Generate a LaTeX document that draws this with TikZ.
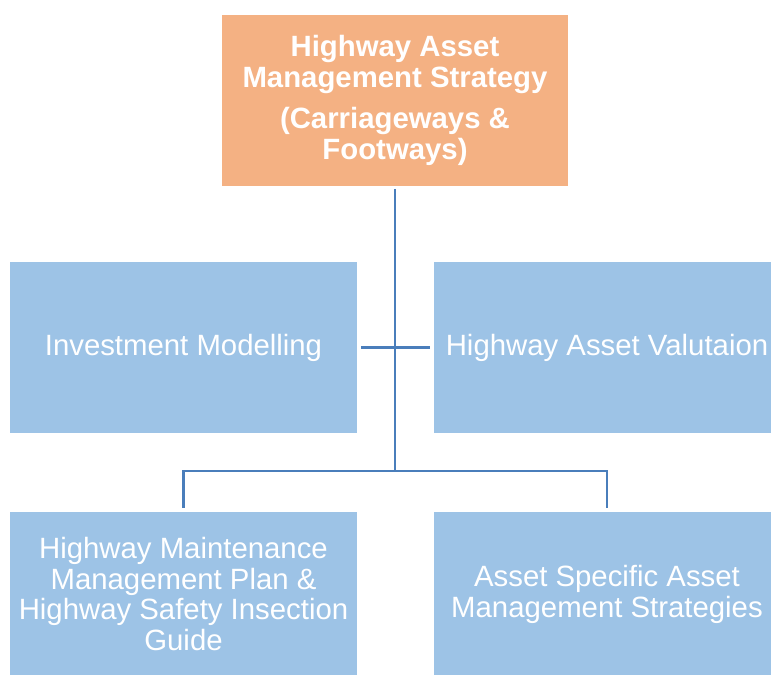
\documentclass[tikz,border=0pt]{standalone}
\usepackage{fontspec}
\setmainfont{Liberation Sans}
\definecolor{hPeach}{HTML}{F4B183}
\definecolor{hSky}{HTML}{9DC3E6}
\definecolor{hLine}{HTML}{4A7EBB}
\usetikzlibrary{positioning}

\begin{document}
\begin{tikzpicture}[x=0.02cm, y=-0.02cm,
  topbox/.style={fill=hPeach, text=white, inner sep=0pt,
              minimum width=6.92cm, minimum height=3.42cm,
              font=\fontsize{16.7}{17.6}\selectfont\bfseries, align=center},
  subbox/.style={fill=hSky, text=white, inner sep=0pt,
              minimum width=6.94cm, minimum height=3.42cm,
              font=\fontsize{16.7}{17.6}\selectfont, align=center},
  link/.style={draw=hLine, line width=1.6pt}]

  \useasboundingbox (0,0) rectangle (771,675);
  \clip (0,0) rectangle (771,675);

  \node[topbox] (strat) at (395,100.5)
    {Highway Asset\\Management Strategy\\[6pt](Carriageways \&\\Footways)};

  \node[subbox] (invest) at (183.5,347.5) {Investment Modelling};
  \node[subbox] (value)  at (607,347.5) {Highway Asset Valutaion};
  \node[subbox, minimum height=3.28cm] (hmmp) at (183.5,594)
    {Highway Maintenance\\Management Plan \&\\Highway Safety Insection\\Guide};
  \node[subbox, minimum height=3.28cm] (specific) at (607,594)
    {Asset Specific Asset\\Management Strategies};

  \coordinate (join) at (395,471);
  \draw[link, shorten <=1.5pt] (strat.south) -- (join);
  \draw[link, shorten <=2pt, shorten >=2pt] (invest.east) -- (value.west);
  \draw[link, shorten >=2pt] (join) -| (hmmp.north);
  \draw[link, shorten >=2pt] (join) -| (specific.north);
\end{tikzpicture}
\end{document}
